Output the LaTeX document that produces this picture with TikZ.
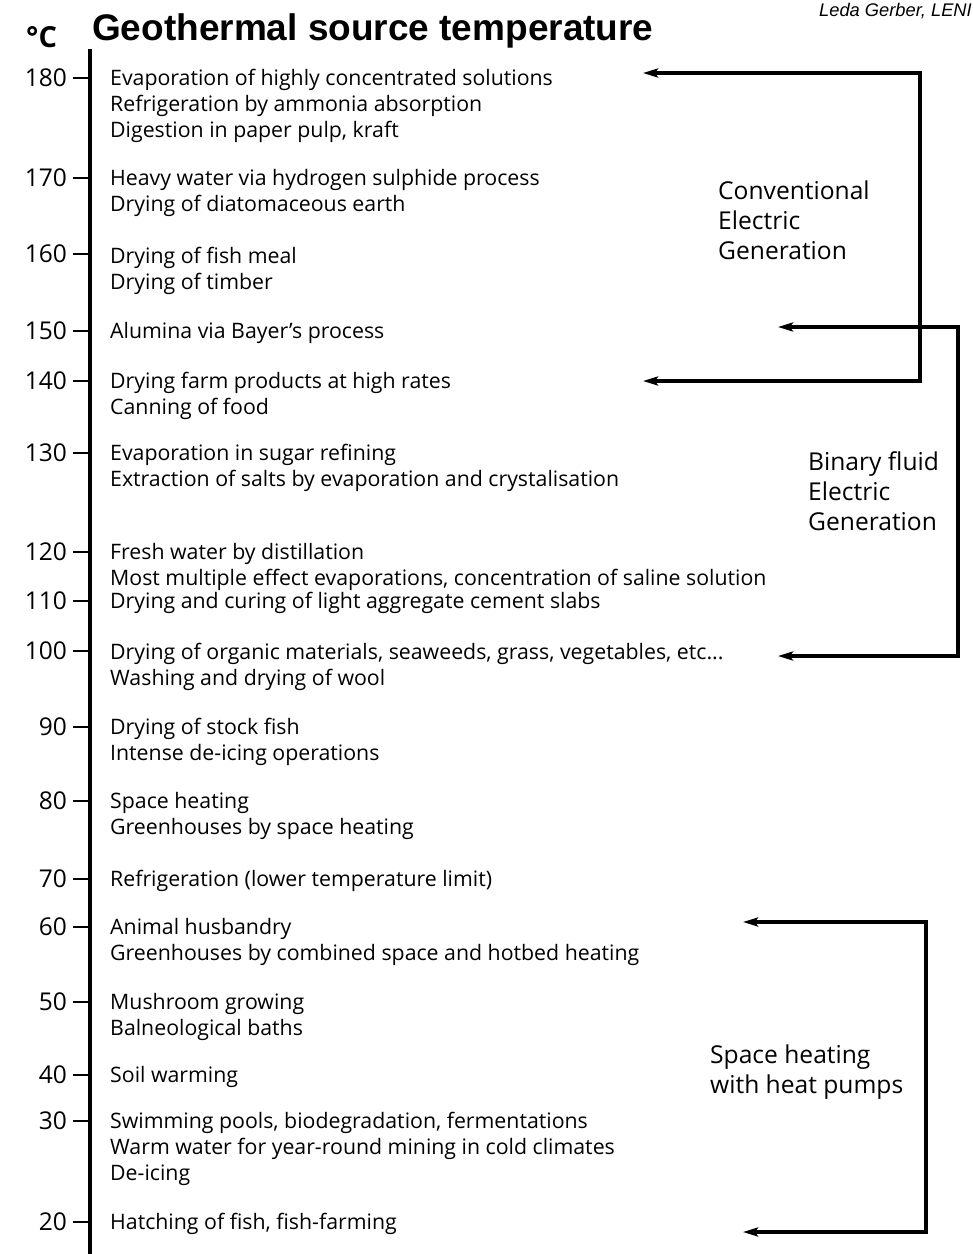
\documentclass[tikz,border=0pt]{standalone}
\usepackage{fontspec}
\setmainfont{Open Sans}
\newfontfamily\arialfont{Liberation Sans}
\usetikzlibrary{arrows.meta}
\begin{document}
\begin{tikzpicture}[x=1pt,y=-1pt,
  item/.style={anchor=mid west, inner sep=0pt, yshift=-4.5pt, font=\fontsize{21.3}{24}\selectfont},
  temp/.style={anchor=east, inner sep=0pt, font=\fontsize{24.5}{26}\selectfont},
  grp/.style={anchor=west, inner sep=0pt, align=left, font=\fontsize{24.6}{30}\selectfont},
  axisline/.style={line width=3.2pt},
  tickline/.style={line width=2pt},
  bracket/.style={line width=3.2pt, line join=miter, {Stealth[length=15pt,width=9pt,inset=3pt]}-{Stealth[length=15pt,width=9pt,inset=3pt]}},
]
\useasboundingbox (0,0) rectangle (973,1254);

% header
\node[anchor=north east, inner sep=0pt, font=\arialfont\itshape\fontsize{18.3}{20}\selectfont] (author) at (972,3) {Leda Gerber, LENI};
\node[anchor=base west, inner sep=0pt, font=\arialfont\bfseries\fontsize{37}{40}\selectfont] (title) at (92,40) {Geothermal source temperature};
\node[anchor=base west, inner sep=0pt, font=\bfseries\fontsize{29}{30}\selectfont] (unit) at (26,47) {°C};

% axis
\coordinate (axtop) at (90,49);
\coordinate (axbot) at (90,1254);
\draw[axisline] (axtop) -- (axbot);

% ticks and temperatures
\foreach \t/\y in {180/78,170/178,160/254,150/331,140/381,130/453,120/552,110/601,100/651,90/727,80/801,70/879,60/927,50/1002,40/1075,30/1121,20/1222}{
  \node[temp] (t\t) at (67,\y) {\t};
  \coordinate (s\t) at (73,\y);
  \coordinate (k\t) at (90,\y);
  \draw[tickline] (s\t) -- (k\t);
}

% items
\node[item] (a1) at (110,78) {Evaporation of highly concentrated solutions};
\node[item] (a2) at (110,104) {Refrigeration by ammonia absorption};
\node[item] (a3) at (110,130) {Digestion in paper pulp, kraft};
\node[item] (b1) at (110,178) {Heavy water via hydrogen sulphide process};
\node[item] (b2) at (110,204) {Drying of diatomaceous earth};
\node[item] (c1) at (110,256) {Drying of fish meal};
\node[item] (c2) at (110,282) {Drying of timber};
\node[item] (d1) at (110,331) {Alumina via Bayer's process};
\node[item] (e1) at (110,381) {Drying farm products at high rates};
\node[item] (e2) at (110,407) {Canning of food};
\node[item] (f1) at (110,453) {Evaporation in sugar refining};
\node[item] (f2) at (110,479) {Extraction of salts by evaporation and crystalisation};
\node[item] (g1) at (110,552) {Fresh water by distillation};
\node[item] (g2) at (110,578) {Most multiple effect evaporations, concentration of saline solution};
\node[item] (h1) at (110,601) {Drying and curing of light aggregate cement slabs};
\node[item] (i1) at (110,652) {Drying of organic materials, seaweeds, grass, vegetables, etc...};
\node[item] (i2) at (110,678) {Washing and drying of wool};
\node[item] (j1) at (110,727) {Drying of stock fish};
\node[item] (j2) at (110,753) {Intense de-icing operations};
\node[item] (l1) at (110,801) {Space heating};
\node[item] (l2) at (110,827) {Greenhouses by space heating};
\node[item] (m1) at (110,879) {Refrigeration (lower temperature limit)};
\node[item] (n1) at (110,927) {Animal husbandry};
\node[item] (n2) at (110,953) {Greenhouses by combined space and hotbed heating};
\node[item] (o1) at (110,1002) {Mushroom growing};
\node[item] (o2) at (110,1028) {Balneological baths};
\node[item] (p1) at (110,1075) {Soil warming};
\node[item] (q1) at (110,1121) {Swimming pools, biodegradation, fermentations};
\node[item] (q2) at (110,1147) {Warm water for year-round mining in cold climates};
\node[item] (q3) at (110,1173) {De-icing};
\node[item] (r1) at (110,1222) {Hatching of fish, fish-farming};

% group labels
\node[grp] (conv) at (718,220) {Conventional\\Electric\\Generation};
\node[grp] (bin) at (808,491) {Binary fluid\\Electric\\Generation};
\node[grp] (hp) at (710,1072) {Space heating\\with heat pumps};

% brackets
\coordinate (cvA) at (643,73);  \coordinate (cvB) at (920,73);
\coordinate (cvC) at (920,381); \coordinate (cvD) at (643,381);
\draw[bracket] (cvA) -- (cvB) -- (cvC) -- (cvD);

\coordinate (bnA) at (778,327); \coordinate (bnB) at (958,327);
\coordinate (bnC) at (958,656); \coordinate (bnD) at (778,656);
\draw[bracket] (bnA) -- (bnB) -- (bnC) -- (bnD);

\coordinate (hpA) at (743,922);  \coordinate (hpB) at (926,922);
\coordinate (hpC) at (926,1232); \coordinate (hpD) at (743,1232);
\draw[bracket] (hpA) -- (hpB) -- (hpC) -- (hpD);
\end{tikzpicture}
\end{document}
